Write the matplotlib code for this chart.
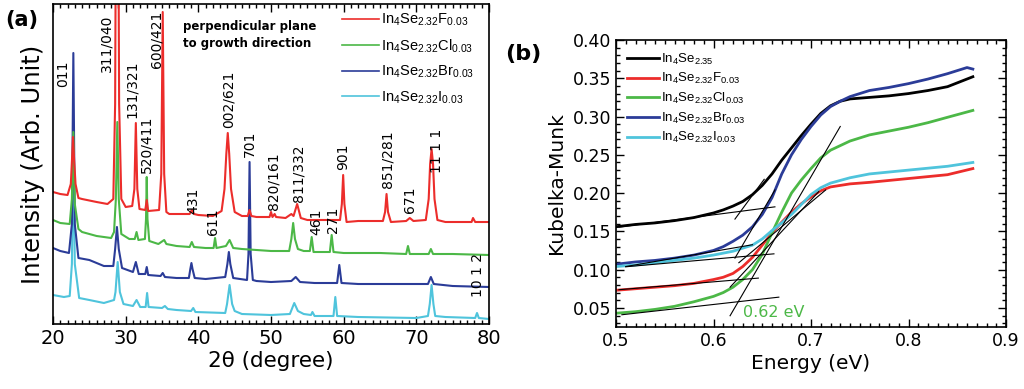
import numpy as np
import matplotlib
matplotlib.use("Agg")
import matplotlib.pyplot as plt
from matplotlib.ticker import MultipleLocator, FormatStrFormatter

plt.rcParams['font.family'] = 'DejaVu Sans'
plt.rcParams['mathtext.fontset'] = 'custom'
plt.rcParams['mathtext.rm'] = 'Liberation Sans'
plt.rcParams['mathtext.it'] = 'Liberation Sans:italic'
plt.rcParams['mathtext.bf'] = 'Liberation Sans:bold'

RED = '#ec2d2b'
GREEN = '#4cb847'
BLUE = '#2b3c98'
CYAN = '#4fc4dc'

# ---- (a) XRD, offset curves (2theta, intensity arb.) ----
xrd_F = [(20, 132), (21, 130), (22.0, 129), (22.45, 140), (22.62, 165), (22.75, 187), (22.9, 165),
         (23.1, 140), (23.5, 126), (24, 125), (26, 122), (27.5, 120), (28.3, 125), (28.55, 220),
         (28.65, 400), (29.0, 400), (29.1, 220), (29.4, 125), (30, 117), (30.9, 118), (31.2, 135),
         (31.4, 201), (31.6, 135), (31.9, 115), (32.7, 114), (32.9, 124), (33.1, 113), (34.6, 114),
         (34.9, 150), (35.1, 312), (35.3, 150), (35.6, 112), (36, 110), (38.8, 110), (39.1, 114),
         (39.4, 110), (40, 109), (42, 108), (43.2, 113), (43.6, 135), (43.85, 170), (44.05, 191),
         (44.25, 170), (44.5, 135), (45.0, 112), (46, 108), (46.8, 108), (47.05, 114), (47.3, 108),
         (48, 107), (49.8, 107), (50.0, 112), (50.2, 107), (50.5, 110), (50.7, 107), (52, 106),
         (52.8, 110), (53.1, 108), (53.6, 120), (54.1, 106), (55, 104), (57, 104), (59.5, 104),
         (59.75, 120), (59.93, 149), (60.1, 120), (60.4, 102), (62, 103), (65.4, 103), (65.7, 112),
         (65.9, 130), (66.1, 112), (66.5, 102), (68.6, 103), (69.1, 106), (69.6, 103), (71.3, 104),
         (71.7, 125), (71.9, 160), (72.1, 175), (72.3, 160), (72.5, 125), (72.9, 104), (74, 102),
         (77.6, 102), (77.8, 106), (78.1, 102), (80, 102)]
xrd_Cl = [(20, 104), (21, 101), (22.3, 100), (22.6, 125), (22.8, 192), (23.0, 120), (23.5, 95),
          (24, 92), (26, 88), (28, 86), (28.4, 92), (28.65, 125), (28.85, 202), (29.05, 125),
          (29.4, 90), (30.5, 85), (31.25, 85), (31.5, 92), (31.75, 84), (32.65, 85), (32.8, 105),
          (32.9, 147), (33.0, 105), (33.25, 83), (34.5, 80), (35.3, 84), (35.6, 80), (37, 78),
          (38.8, 77), (39.1, 82), (39.4, 77), (41, 76), (42.1, 76), (42.3, 86), (42.5, 76),
          (43.8, 78), (44.3, 84), (44.8, 76), (46, 75), (48, 74), (50, 73), (52.5, 73), (52.8, 85),
          (53.05, 101), (53.3, 85), (53.7, 75), (54.5, 73), (55.35, 73), (55.6, 87), (55.85, 72),
          (58.1, 72), (58.35, 89), (58.6, 72), (60, 71), (65, 71), (68.6, 70), (68.85, 78),
          (69.1, 70), (71.7, 70), (72.0, 75), (72.3, 70), (75, 70), (80, 69)]
xrd_Br = [(20, 76), (21, 73), (22.2, 71), (22.6, 100), (22.8, 271), (23.0, 100), (23.5, 66), (25, 64),
          (27, 58), (28.3, 58), (28.55, 75), (28.8, 97), (29.05, 75), (29.5, 56), (31, 52), (31.4, 62),
          (31.8, 50), (32.7, 50), (32.9, 57), (33.1, 49), (34.8, 48), (35.1, 51), (35.4, 47),
          (37, 46), (38.7, 46), (38.9, 55), (39.05, 61), (39.2, 55), (39.5, 46), (41, 45),
          (43.7, 47), (44.0, 60), (44.2, 72), (44.4, 60), (44.8, 46), (46.7, 44), (46.9, 70),
          (47.05, 162), (47.2, 70), (47.5, 44), (48, 43), (50, 42), (52.8, 43), (53.4, 47), (54, 42),
          (56, 41), (59.1, 41), (59.4, 59), (59.7, 41), (62, 40), (65, 40), (71.6, 40), (72.0, 47),
          (72.4, 40), (75, 38), (80, 37)]
xrd_I = [(20, 29), (21.5, 27), (22.3, 28), (22.6, 60), (22.8, 175), (23.0, 60), (23.6, 26), (25, 24),
         (27, 21), (28.4, 24), (28.6, 32), (28.9, 62), (29.2, 32), (29.7, 20), (31, 18), (31.5, 24),
         (32, 17), (32.75, 17), (32.95, 31), (33.15, 17), (35, 16), (35.4, 18), (35.8, 15), (37, 14),
         (39, 13), (39.3, 16), (39.6, 12), (43.7, 11), (43.95, 20), (44.3, 39), (44.65, 20),
         (45, 13), (46, 10), (50, 9), (52.6, 10), (53.2, 21), (53.7, 13), (54.5, 10), (55.5, 9),
         (55.7, 12), (56, 8), (58.6, 8), (58.85, 27), (59.1, 8), (62, 7), (70, 6), (71.6, 8),
         (71.85, 20), (72.1, 39), (72.35, 20), (72.6, 8), (74, 7), (78.1, 6), (78.35, 11),
         (78.6, 6), (80, 5)]

peak_names = ['011', '311/040', '131/321', '520/411', '600/421', '431', '611', '002/621', '701',
              '820/161', '811/332', '461', '271', '901', '851/281', '671', '11 1 1', '10 1 2']
peak_x = [21.42, 27.39, 30.83, 32.89, 34.27, 39.27, 42.02, 44.12, 47.11,
          50.32, 53.76, 56.19, 58.58, 59.95, 66.0, 69.13, 72.8, 78.5]
peak_y = [237, 252, 206, 151, 256, 110, 89, 196, 167,
          114, 122, 89, 91, 154, 136, 111, 151, 27]

xrd_labels = [r'In$_4$Se$_{2.32}$F$_{0.03}$', r'In$_4$Se$_{2.32}$Cl$_{0.03}$',
              r'In$_4$Se$_{2.32}$Br$_{0.03}$', r'In$_4$Se$_{2.32}$I$_{0.03}$']

# ---- (b) Kubelka-Munk ----
E_k = [.50, .52, .54, .56, .58, .60, .61, .62, .63, .64, .65, .66, .67, .68, .69, .70, .71, .72, .73, .74,
       .76, .78, .80, .82, .84, .85, .866]
km_k = [.156, .159, .161, .164, .168, .174, .178, .183, .189, .198, .210, .225, .243, .259, .275, .290,
        .304, .314, .320, .323, .325, .327, .330, .334, .339, .344, .352]
E_br = [.50, .52, .54, .56, .58, .60, .61, .62, .63, .64, .65, .66, .67, .68, .69, .70, .71, .72, .73, .74,
        .76, .78, .80, .82, .84, .86, .866]
km_br = [.107, .110, .112, .115, .119, .125, .130, .137, .145, .156, .172, .194, .225, .250, .270, .287,
         .302, .313, .320, .326, .334, .338, .343, .349, .356, .364, .362]
E_cl = [.50, .52, .54, .56, .58, .60, .61, .62, .63, .64, .65, .66, .67, .68, .69, .70, .71, .72, .74, .76,
        .78, .80, .82, .84, .866]
km_cl = [.043, .045, .048, .052, .058, .065, .070, .077, .087, .100, .120, .148, .175, .200, .217, .232,
         .246, .256, .268, .276, .281, .286, .292, .299, .308]
E_f = [.50, .52, .54, .56, .58, .60, .61, .62, .63, .64, .65, .66, .67, .68, .69, .70, .71, .72, .74, .76,
       .80, .84, .866]
km_f = [.073, .075, .077, .079, .082, .087, .090, .095, .104, .116, .132, .148, .162, .175, .186, .195,
        .203, .208, .212, .214, .219, .224, .232]
E_i = [.50, .52, .54, .56, .58, .60, .62, .64, .65, .66, .67, .68, .69, .70, .71, .72, .74, .76, .80, .84,
       .866]
km_i = [.104, .106, .109, .112, .115, .119, .124, .132, .140, .151, .161, .172, .185, .198, .207, .213,
        .220, .225, .230, .235, .240]

# fitted tangent lines (x0, y0, x1, y1)
tangents = [(0.503, 0.1555, 0.663, 0.182), (0.622, 0.166, 0.652, 0.218),
            (0.510, 0.104, 0.640, 0.1325), (0.622, 0.115, 0.663, 0.204),
            (0.510, 0.1037, 0.662, 0.1206), (0.626, 0.109, 0.715, 0.204),
            (0.503, 0.0737, 0.646, 0.0889), (0.617, 0.077, 0.708, 0.202),
            (0.506, 0.041, 0.667, 0.064), (0.617, 0.0397, 0.730, 0.287)]

fig = plt.figure(figsize=(10.24, 3.89), dpi=100)

# ---------- panel (a) ----------
ax = fig.add_axes([53 / 1024, 65 / 389, 436 / 1024, 320 / 389])
for data, col in zip([xrd_I, xrd_Br, xrd_Cl, xrd_F], [CYAN, BLUE, GREEN, RED]):
    arr = np.array(data).T
    ax.plot(arr[0], arr[1], color=col, lw=1.5)
handles = [plt.Line2D([], [], color=c, lw=1.2) for c in [RED, GREEN, BLUE, CYAN]]
ax.legend(handles, xrd_labels, loc='upper left', bbox_to_anchor=(0.663, 0.975), frameon=False,
          borderpad=0, borderaxespad=0, handlelength=2.5, handletextpad=0.15, labelspacing=0.62,
          prop={'family': 'Liberation Sans', 'size': 10.5})
for name, px, py in zip(peak_names, peak_x, peak_y):
    ax.text(px, py, name, rotation=90, ha='center', va='bottom', fontsize=10)
ax.text(0.298, 0.903, 'perpendicular plane\nto growth direction', transform=ax.transAxes,
        fontsize=8.5, fontweight='bold', va='center', ha='left', linespacing=1.35)
ax.set_xlim(20, 80)
ax.set_ylim(0, 320)
ax.xaxis.set_major_locator(MultipleLocator(10))
ax.xaxis.set_minor_locator(MultipleLocator(1))
ax.tick_params(which='both', direction='in', top=True, left=False, right=False, labelleft=False)
ax.tick_params(which='major', length=6, width=1, labelsize=14)
ax.tick_params(which='minor', length=3, width=1)
ax.set_xlabel('2θ (degree)', fontsize=15.5, labelpad=2)
ax.set_ylabel('Intensity (Arb. Unit)', fontsize=17.5, labelpad=6)
for s in ax.spines.values():
    s.set_linewidth(1.2)

# ---------- panel (b) ----------
bx = fig.add_axes([616 / 1024, 62 / 389, 390 / 1024, 287 / 389])
bx.plot(E_k, km_k, color='black', lw=2, label=r'In$_4$Se$_{2.35}$')
bx.plot(E_f, km_f, color=RED, lw=2, label=r'In$_4$Se$_{2.32}$F$_{0.03}$')
bx.plot(E_cl, km_cl, color=GREEN, lw=2, label=r'In$_4$Se$_{2.32}$Cl$_{0.03}$')
bx.plot(E_br, km_br, color=BLUE, lw=2, label=r'In$_4$Se$_{2.32}$Br$_{0.03}$')
bx.plot(E_i, km_i, color=CYAN, lw=2, label=r'In$_4$Se$_{2.32}$I$_{0.03}$')
for x0, y0, x1, y1 in tangents:
    bx.plot([x0, x1], [y0, y1], color='black', lw=0.8)
bx.legend(loc='upper left', bbox_to_anchor=(0.028, 0.96), frameon=False, borderpad=0,
          borderaxespad=0, handlelength=2.4, handletextpad=0.2, labelspacing=0.35,
          prop={'family': 'Liberation Sans', 'size': 9.5})
bx.text(0.630, 0.0436, '0.62 eV', color=GREEN, fontsize=11.5, ha='left', va='center')
bx.set_xlim(0.5, 0.9)
bx.set_ylim(0.025, 0.40)
bx.xaxis.set_major_locator(MultipleLocator(0.1))
bx.xaxis.set_minor_locator(MultipleLocator(0.01))
bx.yaxis.set_major_locator(MultipleLocator(0.05))
bx.yaxis.set_minor_locator(MultipleLocator(0.01))
bx.xaxis.set_major_formatter(FormatStrFormatter('%.1f'))
bx.yaxis.set_major_formatter(FormatStrFormatter('%.2f'))
bx.tick_params(which='both', direction='in', top=True, right=True)
bx.tick_params(which='major', length=6, width=1, labelsize=12.5)
bx.tick_params(which='minor', length=3, width=1)
bx.set_xlabel('Energy (eV)', fontsize=14.5, labelpad=3)
bx.set_ylabel('Kubelka-Munk', fontsize=14.5, labelpad=5)
for s in bx.spines.values():
    s.set_linewidth(1.2)

fig.text(5 / 1024, 1 - 20 / 389, '(a)', fontsize=15, fontweight='bold', va='center', ha='left')
fig.text(505 / 1024, 1 - 54 / 389, '(b)', fontsize=16, fontweight='bold', va='center', ha='left')

fig.savefig('out.png', dpi=100)
